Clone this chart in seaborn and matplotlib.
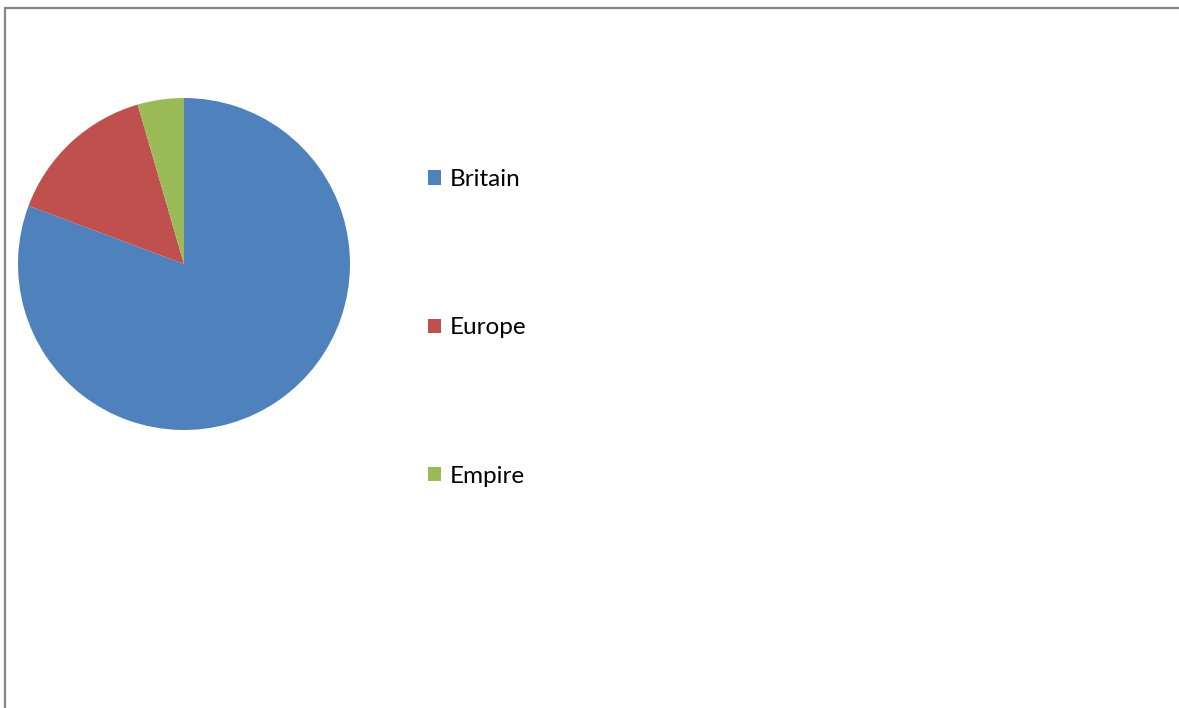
import matplotlib
matplotlib.use("Agg")
import matplotlib.pyplot as plt
from matplotlib.patches import Rectangle, Patch
import seaborn as sns

categories = ["Britain", "Europe", "Empire"]
values = [80.7, 14.8, 4.5]
colors = ["#4F81BD", "#C0504D", "#9BBB59"]

sns.set_theme(style="white")
plt.rcParams['font.family'] = ['Lato', 'DejaVu Sans']

W, H = 1179, 708
fig = plt.figure(figsize=(W / 100, H / 100), dpi=100)
fig.patch.set_facecolor("white")

cx, cy, r = 184, 264, 166
ax = fig.add_axes([(cx - r) / W, (H - cy - r) / H, 2 * r / W, 2 * r / H])
ax.pie(values, colors=colors, startangle=90, counterclock=False, radius=1,
       wedgeprops=dict(linewidth=0))
ax.set_xlim(-1, 1)
ax.set_ylim(-1, 1)
ax.set_aspect("equal")
ax.axis("off")

handles = [Patch(facecolor=c, edgecolor="none") for c in colors]
leg = fig.legend(handles, categories, loc="upper left",
                 bbox_to_anchor=(428 / W, 1 - 169 / H),
                 frameon=False, prop={'size': 17.5},
                 handlelength=0.535, handleheight=0.535, handletextpad=0.37,
                 labelspacing=5.24, borderaxespad=0, borderpad=0)
for t in leg.get_texts():
    t.set_color("black")

fig.add_artist(Rectangle((5 / W, -0.1), 2, (H - 8) / H + 0.1,
                         transform=fig.transFigure, fill=False,
                         edgecolor="#868686", linewidth=1.6))

fig.savefig("out.png", dpi=100)
